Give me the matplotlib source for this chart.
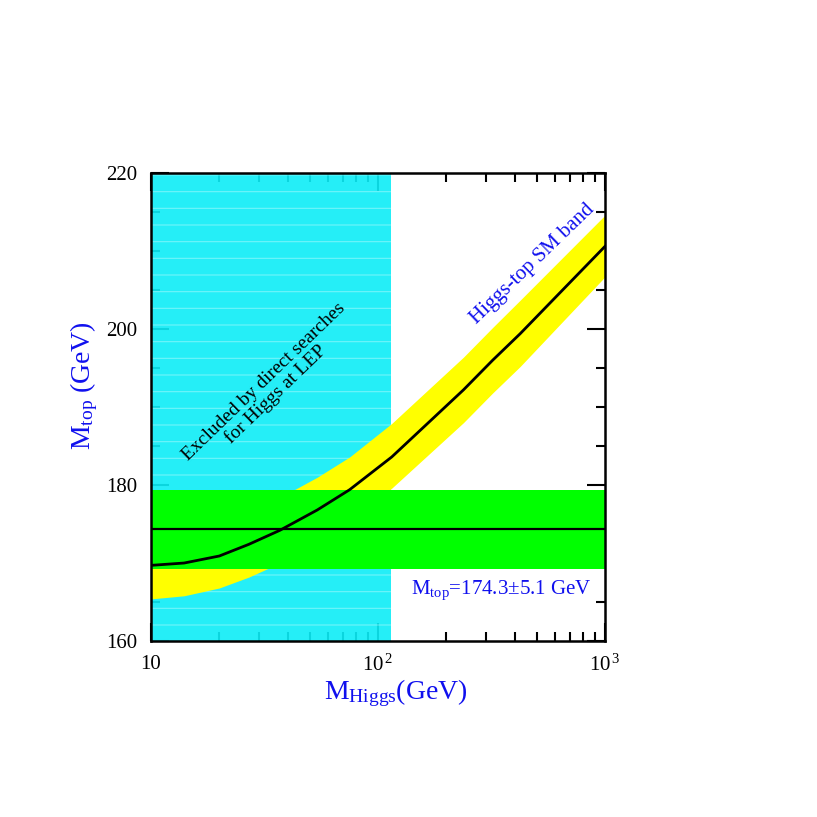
import matplotlib
matplotlib.use("Agg")
import matplotlib.pyplot as plt
from matplotlib.ticker import MultipleLocator, FixedLocator, NullFormatter

plt.rcParams['font.family'] = ['Liberation Serif', 'DejaVu Serif']
plt.rcParams['mathtext.fontset'] = 'custom'
plt.rcParams['mathtext.rm'] = 'Liberation Serif'
plt.rcParams['mathtext.it'] = 'Liberation Serif:italic'
plt.rcParams['hatch.linewidth'] = 0.8

# Higgs mass (GeV) and the SM Higgs-top band
mh = [10, 14, 20, 27, 37, 54, 75, 115, 238, 320, 423, 1000]
mt_c = [169.7, 170.0, 170.9, 172.4, 174.2, 176.8, 179.4, 183.6, 192.2, 196.0, 199.4, 210.6]
mt_lo = [165.4, 165.8, 166.8, 168.2, 170.0, 172.6, 175.2, 179.6, 188.0, 191.8, 195.2, 206.7]
mt_hi = [173.9, 174.2, 175.1, 176.6, 178.4, 181.0, 183.6, 187.9, 196.4, 200.2, 203.7, 214.6]

# measured top mass
mtop = 174.3
mtop_err = 5.1
# LEP direct search limit
mh_lep = 114

fig = plt.figure(figsize=(8.17, 8.17), dpi=100)
ax = fig.add_axes([0.1848, 0.2154, 0.5557, 0.5728])
ax.set_xscale('log')
ax.set_xlim(10, 1000)
ax.set_ylim(160, 220)
ax.set_axisbelow(True)

# excluded region (dotted cyan)
ax.axvspan(10, mh_lep, facecolor=(0.05, 0.93, 0.97, 0.9), edgecolor=(1, 1, 1, 0.35),
           linewidth=0, hatch='-', zorder=1)

ax.fill_between(mh, mt_lo, mt_hi, color='#ffff00', linewidth=0, zorder=1.2)
ax.axhspan(mtop - mtop_err, mtop + mtop_err, color='#00ff00', linewidth=0, zorder=1.4)

ax.plot(mh, mt_c, color='black', lw=2, zorder=3)
ax.axhline(mtop, color='black', lw=1.6, zorder=3)

# axes, ticks
for s in ax.spines.values():
    s.set_linewidth(1.8)
ax.xaxis.set_major_locator(FixedLocator([10, 100, 1000]))
ax.set_xticklabels(['10', r'$10^{\,2}$', r'$10^{\,3}$'])
ax.xaxis.set_minor_locator(FixedLocator([20, 30, 40, 50, 60, 70, 80, 90,
                                         200, 300, 400, 500, 600, 700, 800, 900]))
ax.xaxis.set_minor_formatter(NullFormatter())
ax.yaxis.set_major_locator(MultipleLocator(20))
ax.yaxis.set_minor_locator(MultipleLocator(5))
ax.tick_params(which='both', direction='in', top=True, right=True, width=1.5,
               labelsize=15, pad=10)
ax.tick_params(which='major', length=13)
ax.tick_params(which='minor', length=6.5)

# labels
fig.text(84 / 817, 1 - 386 / 817, r'M$_{\mathrm{top}}$ (GeV)', rotation=90,
         color='#1010ee', fontsize=20, ha='center', va='center')
fig.text(396 / 817, 1 - 693 / 817, r'M$_{\mathrm{Higgs}}$(GeV)',
         color='#1010ee', fontsize=20, ha='center', va='center')

ax.text(33.5, 192.4, 'Excluded by direct searches\nfor Higgs at LEP', rotation=44,
        rotation_mode='anchor', ha='center', va='center', fontsize=14,
        linespacing=1.0, zorder=4)
ax.text(482, 208.3, 'Higgs-top SM band', rotation=44, rotation_mode='anchor',
        ha='center', va='center', fontsize=15, color='#1010ee', zorder=4)
ax.text(348, 166.5, r'M$_{\mathrm{top}}$=174.3±5.1 GeV', ha='center', va='center',
        fontsize=15, color='#1010ee', zorder=4)

fig.savefig('out.png', dpi=100)
